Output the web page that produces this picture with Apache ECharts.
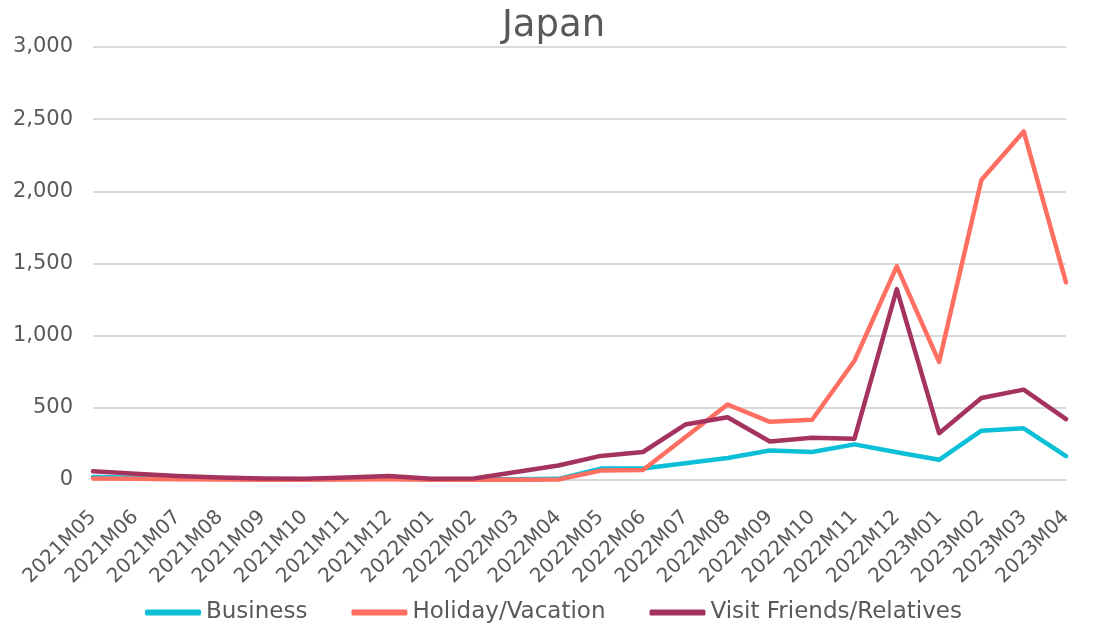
<!DOCTYPE html>
<html><head><meta charset="utf-8">
<script src="https://cdn.jsdelivr.net/npm/echarts@6/dist/echarts.min.js"></script>
<style>html,body{margin:0;padding:0;background:#fff}#c{width:1107px;height:629px}</style>
</head><body><div id="c"></div>
<script>
const categories = ['2021M05','2021M06','2021M07','2021M08','2021M09','2021M10','2021M11','2021M12','2022M01','2022M02','2022M03','2022M04','2022M05','2022M06','2022M07','2022M08','2022M09','2022M10','2022M11','2022M12','2023M01','2023M02','2023M03','2023M04'];
const business = [20,15,10,8,5,5,8,10,5,5,5,8,79,80,116,153,205,194,247,192,140,342,358,165];
const holiday = [10,8,5,3,2,2,3,5,2,2,2,3,65,69,296,523,403,417,826,1480,818,2078,2415,1369];
const visitFriends = [60,43,28,18,10,8,18,28,8,10,55,100,167,194,384,435,267,292,286,1323,324,568,626,422];
const seriesNames = ['Business','Holiday/Vacation','Visit Friends/Relatives'];
const colors = ['#0BC0D6','#FF6F61','#A4345F'];
const FONT = '"DejaVu Sans",sans-serif';
const chart = echarts.init(document.getElementById('c'));
const mk = (name, data, color) => ({
  name, type: 'line', data, symbol: 'none', smooth: false,
  lineStyle: {color, width: 4.5, cap: 'round', join: 'round'}, itemStyle: {color}
});
chart.setOption({
  animation: false,
  color: colors,
  title: {text: 'Japan', left: 'center', top: 3, textStyle: {fontFamily: FONT, fontSize: 37, fontWeight: 'normal', color: '#595959'}},
  grid: {left: 93, right: 41, top: 47, bottom: 149, containLabel: false},
  xAxis: {type: 'category', data: categories, boundaryGap: false,
    axisLine: {show: true, lineStyle: {color: '#D9D9D9', width: 2}}, axisTick: {show: false},
    axisLabel: {rotate: 45, interval: 0, fontFamily: FONT, fontSize: 20, color: '#595959', margin: 34}},
  yAxis: {type: 'value', min: 0, max: 3000, interval: 500,
    axisLine: {show: false}, axisTick: {show: false},
    splitLine: {lineStyle: {color: '#D9D9D9', width: 2}},
    axisLabel: {fontFamily: FONT, fontSize: 21, color: '#595959', margin: 20,
      formatter: v => v.toLocaleString('en-US')}},
  legend: {bottom: 0, left: 'center', itemWidth: 56, itemHeight: 6, itemGap: 44,
    icon: 'roundRect',
    textStyle: {fontFamily: FONT, fontSize: 23, color: '#595959'},
    data: seriesNames},
  series: [mk(seriesNames[0], business, colors[0]), mk(seriesNames[1], holiday, colors[1]), mk(seriesNames[2], visitFriends, colors[2])]
});
</script></body></html>
